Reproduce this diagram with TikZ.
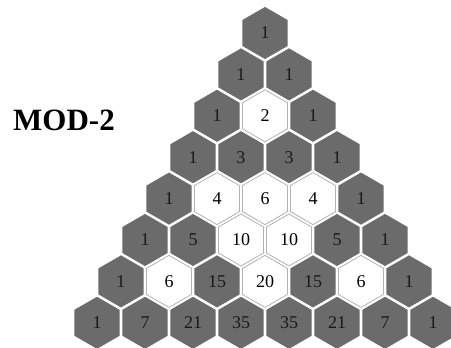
\documentclass[tikz,border=0pt]{standalone}
\usepackage{fontspec}
\setmainfont{Liberation Serif}
\usetikzlibrary{shapes.geometric}

\tikzset{
  hexcell/.style={regular polygon, regular polygon sides=6, shape border rotate=30,
    minimum size=54pt, inner sep=0pt, font=\fontsize{18}{18}\selectfont},
  oddcell/.style={hexcell, fill=black!58, text=black!90, draw=white, line width=1.4pt},
  evencell/.style={hexcell, fill=white, text=black, draw=black!30, line width=0.8pt,
    minimum size=52pt},
}

\begin{document}
\begin{tikzpicture}[x=1pt,y=-1pt]
  \useasboundingbox (0,0) rectangle (451,348);
  \node[font=\bfseries\fontsize{31}{31}\selectfont] (title) at (64,120) {MOD-2};
  % rows of the triangle, odd entries dark
  \foreach \r/\vals in {0/{1},1/{1,1},2/{1,2,1},3/{1,3,3,1},4/{1,4,6,4,1},
      5/{1,5,10,10,5,1},6/{1,6,15,20,15,6,1},7/{1,7,21,35,35,21,7,1}} {
    \foreach \v [count=\k from 0] in \vals {
      \ifodd\v\relax \def\cellstyle{oddcell}\else \def\cellstyle{evencell}\fi
      \node[\cellstyle] (c-\r-\k) at ({265+(\k-\r/2)*48},{33+\r*41.4}) {\v};
    }
  }
\end{tikzpicture}
\end{document}
